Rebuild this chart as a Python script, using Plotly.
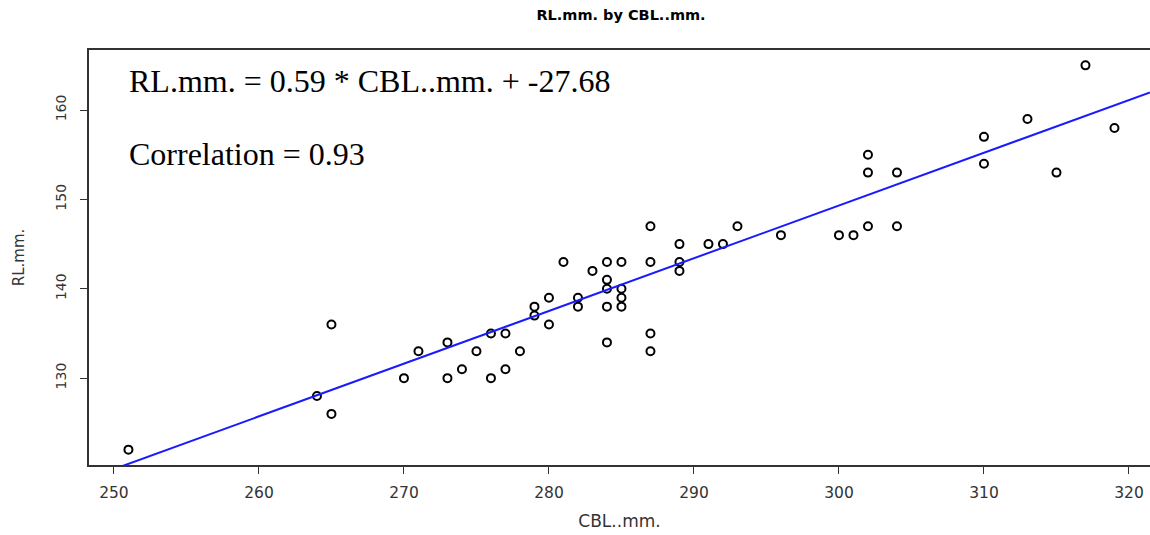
import plotly.graph_objects as go

# CBL (condylobasal length, mm) and RL (rostral length, mm) measurements
cbl_mm = [251, 264, 265, 265, 270, 271, 273, 273, 274, 275, 276, 276, 277, 277,
          278, 279, 279, 280, 280, 281, 282, 282, 283, 284, 284, 284, 284, 284,
          285, 285, 285, 285, 287, 287, 287, 287, 289, 289, 289, 291, 292, 293,
          296, 300, 301, 302, 302, 302, 304, 304, 310, 310, 313, 315, 317, 319]
rl_mm = [122, 128, 136, 126, 130, 133, 134, 130, 131, 133, 135, 130, 135, 131,
         133, 138, 137, 139, 136, 143, 139, 138, 142, 143, 141, 140, 138, 134,
         143, 140, 139, 138, 147, 143, 135, 133, 145, 143, 142, 145, 145, 147,
         146, 146, 146, 155, 153, 147, 153, 147, 157, 154, 159, 153, 165, 158]

# Fitted line reported in the annotation
slope = 0.59
intercept = -27.68
correlation = 0.93

x_ticks = [250, 260, 270, 280, 290, 300, 310, 320]
y_ticks = [130, 140, 150, 160]

x_range = [248.28, 321.45]
y_range = [120.28, 166.72]

fig = go.Figure()

fig.add_trace(go.Scatter(
    x=cbl_mm, y=rl_mm, mode="markers",
    marker=dict(symbol="circle-open", size=8, color="black",
                line=dict(width=2, color="black")),
    showlegend=False, hoverinfo="x+y",
))

line_x = [x_range[0], x_range[1]]
line_y = [slope * v + intercept for v in line_x]
fig.add_trace(go.Scatter(
    x=line_x, y=line_y, mode="lines",
    line=dict(color="#1a1aff", width=2), showlegend=False, hoverinfo="skip",
))

axis_color = "#333333"

fig.update_layout(
    width=1150, height=535,
    margin=dict(l=89, r=0, t=50, b=70),
    paper_bgcolor="white", plot_bgcolor="white",
    title=dict(text="<b>RL.mm. by CBL..mm.</b>", x=0.54, xanchor="center",
               y=0.972, yanchor="middle",
               font=dict(family="DejaVu Sans", size=14.5, color="black")),
    xaxis=dict(
        range=x_range, tickmode="array", tickvals=x_ticks,
        ticks="outside", ticklen=7, tickcolor=axis_color, tickwidth=1,
        showline=True, linecolor=axis_color, linewidth=1.5, mirror=True,
        showgrid=False, zeroline=False,
        tickfont=dict(family="DejaVu Sans", size=15.5, color=axis_color),
        ticklabelstandoff=6,
        title=dict(text="CBL..mm.", standoff=14,
                   font=dict(family="DejaVu Sans", size=17, color=axis_color)),
    ),
    yaxis=dict(
        range=y_range, tickmode="array", tickvals=y_ticks,
        ticks="outside", ticklen=7, tickcolor=axis_color, tickwidth=1,
        showline=True, linecolor=axis_color, linewidth=1.5, mirror=False,
        showgrid=False, zeroline=False, tickangle=-90,
        tickfont=dict(family="DejaVu Sans", size=14, color=axis_color),
        ticklabelstandoff=9,
        title=dict(text="RL.mm.", standoff=24,
                   font=dict(family="DejaVu Sans", size=15, color=axis_color)),
    ),
)

fig.add_annotation(
    xref="paper", yref="paper", x=0.036, y=0.925, xanchor="left", yanchor="middle",
    text=f"RL.mm. = {slope} * CBL..mm. + {intercept}", showarrow=False,
    font=dict(family="Liberation Serif", size=32, color="black"),
)
fig.add_annotation(
    xref="paper", yref="paper", x=0.036, y=0.750, xanchor="left", yanchor="middle",
    text=f"Correlation = {correlation}", showarrow=False,
    font=dict(family="Liberation Serif", size=32, color="black"),
)

fig.write_html("out.html")
